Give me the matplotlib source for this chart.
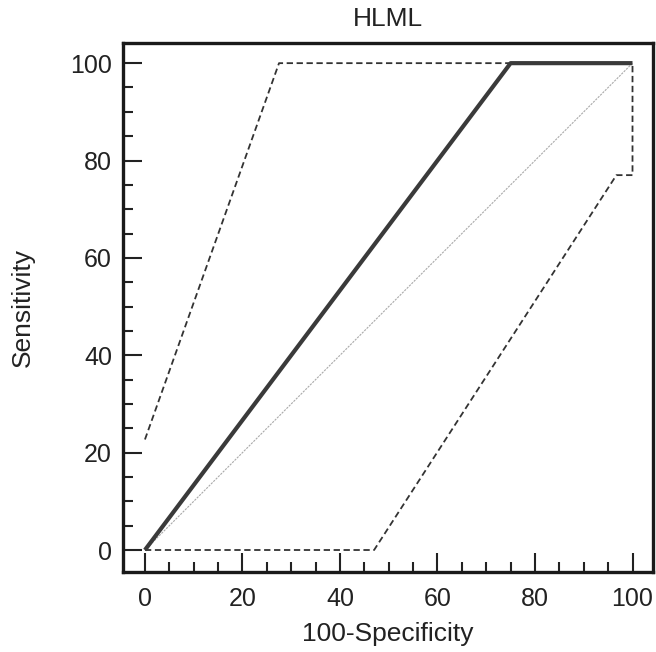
import matplotlib
matplotlib.use("Agg")
import matplotlib.pyplot as plt
from matplotlib.ticker import MultipleLocator

plt.rcParams['font.family'] = ['Liberation Sans', 'DejaVu Sans']

# ROC curve and confidence bounds (100-Specificity, Sensitivity)
roc_x = [0, 75, 100]
roc_y = [0, 100, 100]
upper_x = [0, 27.5, 100]
upper_y = [22.7, 100, 100]
lower_x = [0, 47, 96.7, 100, 100]
lower_y = [0, 0, 77, 77, 100]
diag = [0, 100]

fig = plt.figure(figsize=(6.56, 6.52), dpi=100)
ax = fig.add_axes([0.1875, 0.1232, 0.8079, 0.8113])

ax.plot(diag, diag, color='#aaaaaa', lw=0.8, ls=(0, (2, 1)))
ax.plot(upper_x, upper_y, color='#333333', lw=1.3, ls=(0, (3.5, 2)))
ax.plot(lower_x, lower_y, color='#333333', lw=1.3, ls=(0, (3.5, 2)))
ax.plot(roc_x, roc_y, color='#3a3a3a', lw=3.0, solid_capstyle='butt')

ax.set_xlim(-4.5, 104.2)
ax.set_ylim(-4.45, 104.2)
ax.xaxis.set_major_locator(MultipleLocator(20))
ax.yaxis.set_major_locator(MultipleLocator(20))
ax.xaxis.set_minor_locator(MultipleLocator(5))
ax.yaxis.set_minor_locator(MultipleLocator(5))
ax.tick_params(which='major', direction='in', length=14, width=1.5, color='#222222',
               labelsize=18, pad=8, labelcolor='#222222')
ax.tick_params(axis='x', which='major', pad=11)
ax.tick_params(which='minor', direction='in', length=7, width=1.5, color='#222222')

for s in ax.spines.values():
    s.set_linewidth(2.4)
    s.set_color('#1a1a1a')

ax.set_title('HLML', fontsize=19, color='#222222', pad=12)
ax.set_xlabel('100-Specificity', fontsize=19, color='#222222', labelpad=8)
ax.set_ylabel('Sensitivity', fontsize=19, color='#222222', labelpad=25)

fig.savefig('out.png', dpi=100)
